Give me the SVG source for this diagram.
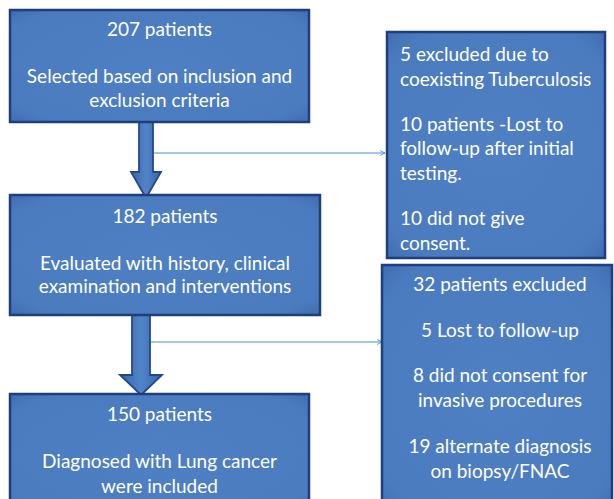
<svg xmlns="http://www.w3.org/2000/svg" width="614" height="499" viewBox="0 0 614 499">
  <defs>
    <radialGradient id="boxFill" cx="50%" cy="50%" r="75%">
      <stop offset="0%" stop-color="#4f80c3"/>
      <stop offset="80%" stop-color="#4b7bbf"/>
      <stop offset="100%" stop-color="#3a66ab"/>
    </radialGradient>
    <linearGradient id="arrowFill" x1="0" y1="0" x2="1" y2="0">
      <stop offset="0%" stop-color="#3864aa"/>
      <stop offset="50%" stop-color="#5185c8"/>
      <stop offset="100%" stop-color="#3864aa"/>
    </linearGradient>
    <marker id="openArrow" viewBox="0 0 10 10" refX="9" refY="5" markerWidth="6" markerHeight="6" orient="auto" markerUnits="userSpaceOnUse">
      <path d="M1,1 L9,5 L1,9" fill="none" stroke="#4b8fd2" stroke-width="1.5"/>
    </marker>
  </defs>
  <style>
    .box { fill: url(#boxFill); stroke: #1f3e7c; stroke-width: 2.5; }
    .arrow { fill: url(#arrowFill); stroke: #24478a; stroke-width: 1.8; stroke-linejoin: miter; }
    .conn { fill: none; stroke: #4b8fd2; stroke-width: 1.2; marker-end: url(#openArrow); }
    text { font-family: "Lato", "Liberation Sans", sans-serif; font-size: 19px; fill: #ffffff; }
    .c { text-anchor: middle; }
  </style>
  <rect width="614" height="499" fill="#ffffff"/>

  <g id="connectors">
    <polygon class="arrow" points="139,122 153,122 153,172 161,172 146,198 131,172 139,172"/>
    <polygon class="arrow" points="132,315 150,315 150,375 162,375 141,395 120,375 132,375"/>
    <line class="conn" x1="154" y1="153" x2="385" y2="153"/>
    <line class="conn" x1="151" y1="342" x2="382" y2="342"/>
  </g>

  <g id="node-207">
    <rect class="box" x="10" y="10" width="299" height="112"/>
    <text class="c" x="159.5" y="36">207 patients</text>
    <text class="c" x="159.5" y="83">Selected based on inclusion and</text>
    <text class="c" x="159.5" y="107">exclusion criteria</text>
  </g>

  <g id="node-excluded1">
    <rect class="box" x="387" y="32" width="218" height="226"/>
    <text x="400" y="61">5 excluded due to</text>
    <text x="400" y="86">coexisting Tuberculosis</text>
    <text x="400" y="131">10 patients -Lost to</text>
    <text x="400" y="155">follow-up after initial</text>
    <text x="400" y="180">testing.</text>
    <text x="400" y="225">10 did not give</text>
    <text x="400" y="250">consent.</text>
  </g>

  <g id="node-182">
    <rect class="box" x="10" y="195" width="310" height="120"/>
    <text class="c" x="165" y="223">182 patients</text>
    <text class="c" x="165" y="270">Evaluated with history, clinical</text>
    <text class="c" x="165" y="293">examination and interventions</text>
  </g>

  <g id="node-excluded2">
    <rect class="box" x="382" y="265" width="230" height="250"/>
    <text class="c" x="500" y="291">32 patients excluded</text>
    <text class="c" x="500" y="337">5 Lost to follow-up</text>
    <text class="c" x="500" y="382">8 did not consent for</text>
    <text class="c" x="500" y="407">invasive procedures</text>
    <text class="c" x="500" y="453">19 alternate diagnosis</text>
    <text class="c" x="500" y="478">on biopsy/FNAC</text>
  </g>

  <g id="node-150">
    <rect class="box" x="10" y="394" width="299" height="120"/>
    <text class="c" x="159.5" y="421">150 patients</text>
    <text class="c" x="159.5" y="468">Diagnosed with Lung cancer</text>
    <text class="c" x="159.5" y="493">were included</text>
  </g>
</svg>
